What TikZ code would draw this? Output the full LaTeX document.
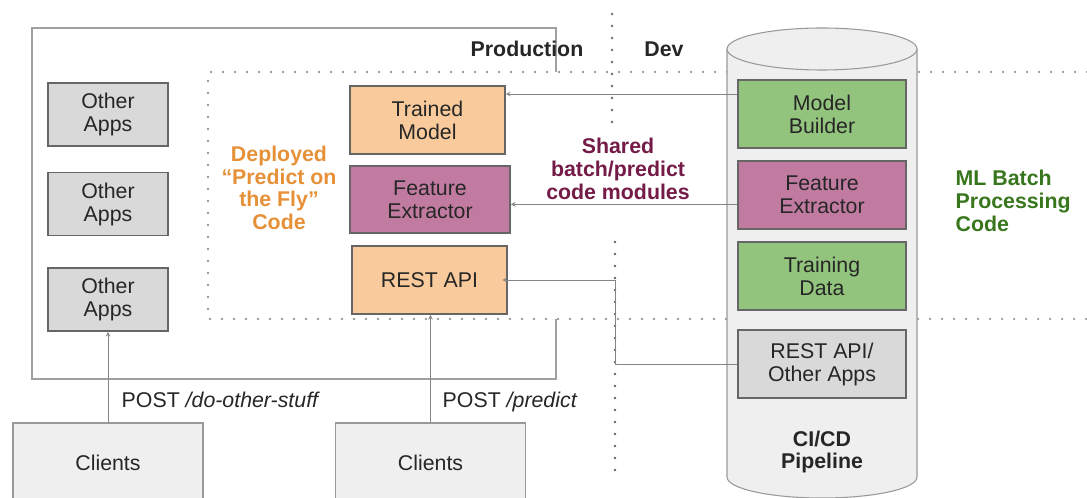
\documentclass[tikz,border=0pt]{standalone}
\usepackage{fontspec}
\setmainfont{Liberation Sans}
\usepackage{xcolor}
\usetikzlibrary{arrows}

\definecolor{framegray}{HTML}{A0A0A0}
\definecolor{dotgray}{HTML}{999999}
\definecolor{edgegray}{HTML}{666666}
\definecolor{boxgray}{HTML}{D9D9D9}
\definecolor{paper}{HTML}{EFEFEF}
\definecolor{peach}{HTML}{F9CB9C}
\definecolor{plum}{HTML}{C27BA0}
\definecolor{leaf}{HTML}{93C47D}
\definecolor{deployorange}{HTML}{E69138}
\definecolor{sharedplum}{HTML}{741B47}
\definecolor{batchgreen}{HTML}{38761D}

\begin{document}
\begin{tikzpicture}
		[x=0.75pt,y=-0.75pt,>=stealth,
		every node/.style={font=\fontsize{16}{17.25}\selectfont,text=black!85,align=center},
		box/.style={rectangle,draw=edgegray,line width=1.2pt,inner sep=0pt},
		appbox/.style={box,fill=boxgray,minimum width=90pt,minimum height=47.25pt},
		servebox/.style={box,fill=peach,minimum width=116.25pt,minimum height=51pt},
		featbox/.style={box,fill=plum,minimum width=120pt,minimum height=50.25pt},
		batchbox/.style={box,fill=leaf,minimum width=126pt,minimum height=51pt},
		clientbox/.style={rectangle,draw=dotgray,line width=0.8pt,fill=paper,minimum width=142.5pt,minimum height=60pt},
		frame/.style={draw=framegray,line width=0.8pt},
		dotline/.style={draw=dotgray,line width=1.9pt,line cap=round,dash pattern=on 0pt off 9pt},
		link/.style={->,draw=edgegray!80,line width=0.6pt},
		title/.style={font=\bfseries\fontsize{16}{17}\selectfont}]
		\useasboundingbox (0,0) rectangle (1087,498);
		
		% production frame and deployed area
		\draw[frame] (556,72) -- (556,28) -- (32,28) -- (32,379) -- (556,379) -- (556,319);
		\draw[dotline] (1087,72) -- (208,72) -- (208,319) -- (1087,319);
		\draw[dotline,draw=edgegray] (612,14) -- (612,124);
		\draw[dotline,draw=edgegray] (615,242) -- (615,477);
		
		% CI/CD pipeline
		\filldraw[fill=paper,draw=dotgray,line width=0.8pt] (727,49) -- (727,477)
			arc[start angle=180,end angle=0,x radius=95,y radius=21] -- (917,49);
		\filldraw[fill=paper,draw=dotgray,line width=0.8pt] (822,49) ellipse (95 and 21);
		
		\node[appbox] (oa1) at (108,114.5) {Other\\Apps};
		\node[appbox] (oa2) at (108,204)   {Other\\Apps};
		\node[appbox] (oa3) at (108,299.5) {Other\\Apps};
		
		\node[servebox] (tm)   at (427.5,120) {Trained\\Model};
		\node[featbox]  (fe1)  at (430,199.5) {Feature\\Extractor};
		\node[servebox] (rest) at (429.5,280) {REST API};
		
		\node[batchbox] (mb)  at (822,114) {Model\\Builder};
		\node[featbox,minimum width=126pt,minimum height=51pt] (fe2) at (822,195) {Feature\\Extractor};
		\node[batchbox] (td)  at (822,276) {Training\\Data};
		\node[appbox,minimum width=126pt,minimum height=51pt] (ra) at (822,364) {REST API/\\Other Apps};
		
		\node[clientbox] (cl1) at (108,463)   {Clients};
		\node[clientbox] (cl2) at (430.5,463) {Clients};
		
		\coordinate (jn) at (615,280);
		
		\draw[link] ([yshift=15pt]mb.west) -- ([yshift=15pt]mb.west -| tm.east);
		\draw[link] ([yshift=-7pt]fe2.west) -- ([yshift=-7pt]fe2.west -| fe1.east);
		\draw[link] (ra.west) -| (jn) -- ([xshift=-4pt]rest.east);
		\draw[link] (cl1.north) -- (oa3.south);
		\draw[link] (cl2.north) -- (cl2.north |- rest.south);
		
		\node[anchor=west] (p1) at (117,400) {POST \textit{/do-other-stuff}};
		\node[anchor=west] (p2) at (438,402) {POST \textit{/predict}};
		
		\node[title] (prod) at (527,49) {Production};
		\node[title] (dev)  at (664,49) {Dev};
		\node[title,text=deployorange] (dep) at (279,188) {Deployed\\“Predict on\\the Fly”\\Code};
		\node[title,text=sharedplum] (shr) at (618,169) {Shared\\batch/predict\\code modules};
		\node[title,text=batchgreen,align=left,anchor=west] (mlb) at (951,201) {ML Batch\\Processing\\Code};
		\node[title] (ci) at (822,452) {CI/CD\\Pipeline};
		\end{tikzpicture}
\end{document}
